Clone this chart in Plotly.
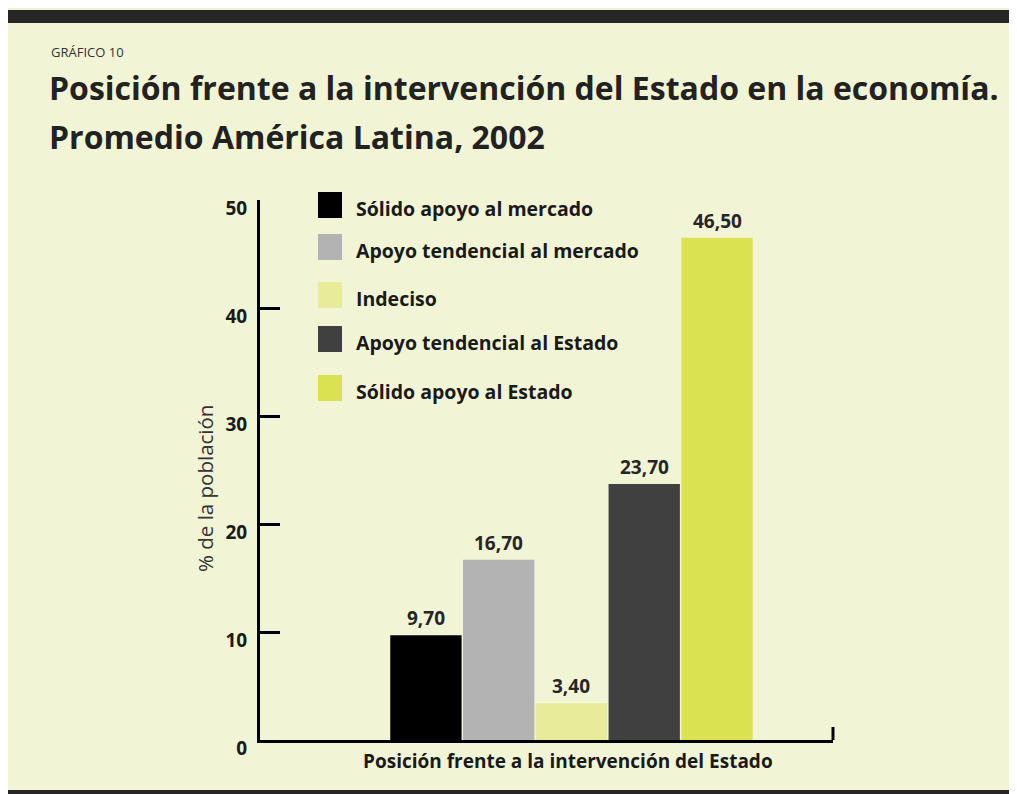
import plotly.graph_objects as go

categories = ["Sólido apoyo al mercado", "Apoyo tendencial al mercado", "Indeciso",
              "Apoyo tendencial al Estado", "Sólido apoyo al Estado"]
values = [9.70, 16.70, 3.40, 23.70, 46.50]
colors = ["#000000", "#b3b3b3", "#e8ec98", "#404040", "#dbe252"]
y_ticks = [0, 10, 20, 30, 40, 50]

W, H, OFF = 1017, 794, 8
# plot area in screen pixels
PL, PR, PT, PB = 260, 833, 200, 740
ml, mr = PL - OFF, W - (PR - OFF)
mt, mb = PT - OFF, H - (PB - OFF)
pw, ph = PR - PL, PB - PT
BG = "#f1f5d6"
FONT = "Open Sans"
TXT = "#1a1a1a"


def fx(sx):
    return (sx - PL) / pw


def fy(sy):
    return (PB - sy) / ph


fig = go.Figure()
fig.add_trace(go.Bar(x=categories, y=values, marker=dict(color=colors, line=dict(width=0)),
                     showlegend=False, hoverinfo="skip"))

annotations = []
# value labels
for c, v in zip(categories, values):
    annotations.append(dict(x=c, y=v, xref="x", yref="y", text=f"<b>{v:.2f}</b>".replace(".", ","),
                            showarrow=False, yanchor="bottom", yshift=2,
                            font=dict(family=FONT, size=19, color="#262626")))

# legend (manual)
leg_y = [205, 247, 295, 339, 388]
shapes = []
for i, (c, col) in enumerate(zip(categories, colors)):
    cy = leg_y[i]
    shapes.append(dict(type="rect", xref="paper", yref="paper", x0=fx(318), x1=fx(342),
                       y0=fy(cy + 13), y1=fy(cy - 13), fillcolor=col, line=dict(width=0), layer="above"))
    annotations.append(dict(x=fx(354), y=fy(cy + 3), xref="paper", yref="paper", text=f"<b>{c}</b>",
                            showarrow=False, xanchor="left", yanchor="middle",
                            font=dict(family=FONT, size=19.5, color=TXT)))

# header bars
shapes.append(dict(type="rect", xref="paper", yref="paper", x0=fx(0), x1=fx(1030),
                   y0=fy(23), y1=fy(10), fillcolor="#262626", line=dict(width=0)))
shapes.append(dict(type="rect", xref="paper", yref="paper", x0=fx(0), x1=fx(1030),
                   y0=fy(802), y1=fy(790), fillcolor="#262626", line=dict(width=0)))
# right end tick of x axis
shapes.append(dict(type="line", xref="paper", yref="paper", x0=1, x1=1, y0=0, y1=fy(727),
                   line=dict(color="#000000", width=3)))

annotations.append(dict(x=fx(49), y=fy(52), xref="paper", yref="paper", text="GRÁFICO 10",
                        showarrow=False, xanchor="left", yanchor="middle",
                        font=dict(family=FONT, size=13, color="#333333")))
annotations.append(dict(x=fx(47), y=fy(88), xref="paper", yref="paper",
                        text="<b>Posición frente a la intervención del Estado en la economía.</b>",
                        showarrow=False, xanchor="left", yanchor="middle",
                        font=dict(family=FONT, size=32, color="#222222")))
annotations.append(dict(x=fx(47), y=fy(136), xref="paper", yref="paper",
                        text="<b>Promedio América Latina, 2002</b>",
                        showarrow=False, xanchor="left", yanchor="middle",
                        font=dict(family=FONT, size=32, color="#222222")))
annotations.append(dict(x=fx(568), y=fy(761), xref="paper", yref="paper",
                        text="<b>Posición frente a la intervención del Estado</b>",
                        showarrow=False, xanchor="center", yanchor="middle",
                        font=dict(family=FONT, size=19, color=TXT)))
annotations.append(dict(x=fx(205), y=fy(489), xref="paper", yref="paper",
                        text="% de la población", textangle=-90,
                        showarrow=False, xanchor="center", yanchor="middle",
                        font=dict(family=FONT, size=20.5, color="#333333")))

fig.update_layout(
    width=W, height=H,
    margin=dict(l=ml, r=mr, t=mt, b=mb),
    paper_bgcolor=BG, plot_bgcolor=BG,
    separators=",.",
    bargap=0.02,
    shapes=shapes, annotations=annotations,
    xaxis=dict(range=[-2.28, 5.594], showticklabels=False, showgrid=False, zeroline=False,
               showline=True, linecolor="#000000", linewidth=3, ticks="", fixedrange=True),
    yaxis=dict(range=[0, 50], tickvals=y_ticks, ticktext=[f"<b>{t}</b>" for t in y_ticks],
               showgrid=False, zeroline=False, showline=True, linecolor="#000000", linewidth=3,
               ticks="inside", ticklen=20, tickwidth=3, tickcolor="#000000",
               ticklabelshift=8, ticklabelstandoff=6,
               tickfont=dict(family=FONT, size=19, color=TXT)),
)

fig.write_html("out.html")
